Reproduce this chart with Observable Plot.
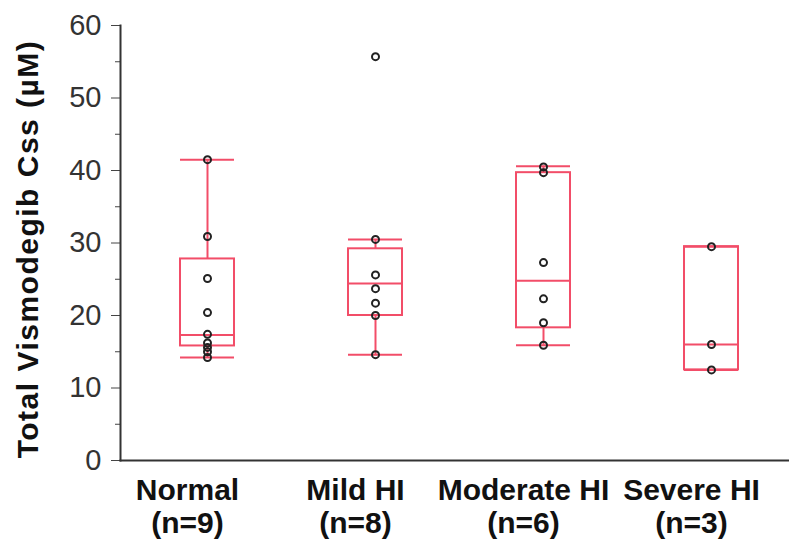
<!DOCTYPE html>
<html><head><meta charset="utf-8">
<script src="https://cdn.jsdelivr.net/npm/d3@7"></script>
<script src="https://cdn.jsdelivr.net/npm/@observablehq/plot@0.6"></script>
<style>
body{margin:0;background:#fff;}
g[aria-label="text"] text{letter-spacing:1.5px;}
</style></head><body><div id="chart"></div>
<script>
const groups = ["Normal", "Mild HI", "Moderate HI", "Severe HI"];
const counts = [9, 8, 6, 3];
const whiskerLow = [14.2, 14.6, 15.9, 12.5];
const q1 = [15.8, 20.0, 18.3, 12.5];
const median = [17.3, 24.4, 24.8, 16.0];
const q3 = [27.8, 29.2, 39.7, 29.5];
const whiskerHigh = [41.5, 30.5, 40.6, 29.5];
const normalValues = [41.5, 30.9, 25.1, 20.4, 17.4, 16.2, 15.6, 15.0, 14.2];
const mildValues = [55.7, 30.5, 25.6, 23.7, 21.7, 20.0, 14.6];
const moderateValues = [40.5, 39.7, 27.3, 22.3, 19.0, 15.9];
const severeValues = [29.5, 16.0, 12.5];
const yTicks = [0, 10, 20, 30, 40, 50, 60];
const yMinorTicks = [5, 15, 25, 35, 45, 55];
const yLabel = "Total Vismodegib Css (µM)";

const summary = groups.map((g, i) => ({group: g, low: whiskerLow[i], q1: q1[i], med: median[i], q3: q3[i], high: whiskerHigh[i]}));
const valueLists = [normalValues, mildValues, moderateValues, severeValues];
const points = groups.flatMap((g, i) => valueLists[i].map(v => ({group: g, value: v})));

const red = "#f24d68";
const font = "'Liberation Sans', Arial, sans-serif";

const chart = Plot.plot({
  width: 789,
  height: 547,
  marginTop: 25,
  marginBottom: 87,
  marginLeft: 120,
  marginRight: 0,
  style: {fontFamily: font, background: "#fff", color: "#222"},
  x: {domain: groups, range: [123, 795], paddingInner: 0.68, paddingOuter: 0.34, axis: null},
  y: {domain: [0, 60], axis: null},
  marks: [
    Plot.ruleX(summary, {x: "group", y1: "low", y2: "q1", stroke: red, strokeWidth: 2}),
    Plot.ruleX(summary, {x: "group", y1: "q3", y2: "high", stroke: red, strokeWidth: 2}),
    Plot.tickY(summary, {x: "group", y: "low", stroke: red, strokeWidth: 2}),
    Plot.tickY(summary, {x: "group", y: "high", stroke: red, strokeWidth: 2}),
    Plot.barY(summary, {x: "group", y1: "q1", y2: "q3", fill: "none", stroke: red, strokeWidth: 2}),
    Plot.tickY(summary, {x: "group", y: "med", stroke: red, strokeWidth: 2}),
    Plot.dot(points, {x: "group", y: "value", r: 3.5, stroke: "#222", strokeWidth: 2, fill: "none"}),
    Plot.axisY({ticks: yTicks, tickSize: 9, tickPadding: 10, fontSize: 29, stroke: "#444", fill: "#333", label: null, tickFormat: d => d}),
    Plot.axisY({ticks: yMinorTicks, tickSize: 5, stroke: "#444", label: null, tickFormat: () => ""}),
    Plot.frame({anchor: "left", stroke: "#333", strokeWidth: 2}),
    Plot.frame({anchor: "bottom", stroke: "#333", strokeWidth: 2}),
    Plot.axisX({tickSize: 0, tickPadding: 16, fontSize: 30, fontWeight: "bold", fill: "#111", dx: -20, lineHeight: 1.1, label: null,
      tickFormat: d => `${d}\n(n=${counts[groups.indexOf(d)]})`}),
    Plot.text([yLabel], {text: d => d, frameAnchor: "left", textAnchor: "middle", rotate: -90, dx: -92, dy: 6, fontSize: 30, fontWeight: "bold", fill: "#111"})
  ]
});
document.getElementById("chart").append(chart);
</script></body></html>
